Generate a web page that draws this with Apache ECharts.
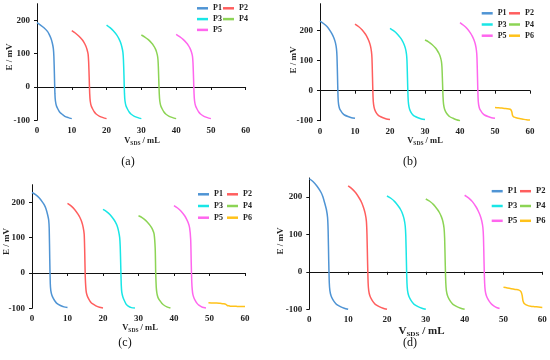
<!DOCTYPE html>
<html>
<head>
<meta charset="utf-8">
<script src="https://cdn.jsdelivr.net/npm/echarts@6/dist/echarts.min.js"></script>
<style>html,body{margin:0;padding:0;background:#fff;}#c{width:550px;height:360px;}</style>
</head>
<body>
<div id="c"></div>
<script>
// ---------- data ----------
const seriesNames = ['P1','P2','P3','P4','P5','P6'];
const seriesColors = ['#4F94D4','#FF5E5E','#19E6E6','#8CD455','#FF66EE','#FFC21A'];
const xTicks = [0,10,20,30,40,50,60];
const yTicks = [-100,0,100,200];
// x offsets (mL) from start of each titration segment (segment k starts at 10*k)
const offsets = [0,1,2,3,3.5,4,4.4,4.7,4.85,5,5.15,5.3,5.6,6,6.5,7,8,9,10];

// panel (a)
const a_P1 = [193,186,178,167,158,146,132,115,92,40,-20,-42,-57,-66,-75,-80,-88,-92,-95];
const a_P2 = [169,162,153,142,134,124,112,98,75,30,-20,-42,-57,-66,-75,-81,-88,-92,-95];
const a_P3 = [186,178,168,155,146,134,120,104,82,35,-20,-42,-57,-66,-75,-81,-88,-92,-95];
const a_P4 = [156,150,142,131,124,115,104,90,70,25,-20,-42,-57,-66,-75,-81,-88,-92,-95];
const a_P5 = [158,151,143,132,125,116,105,92,72,28,-20,-42,-57,-66,-75,-81,-88,-92,-95];

// panel (b)
const b_P1 = [232,224,214,198,188,175,160,140,115,50,-20,-45,-60,-68,-76,-81,-86,-90,-92];
const b_P2 = [222,214,203,188,178,165,150,130,108,45,-20,-45,-62,-72,-80,-85,-90,-94,-96];
const b_P3 = [208,200,190,176,167,155,141,123,100,40,-20,-45,-62,-72,-80,-85,-90,-94,-96];
const b_P4 = [169,163,154,142,134,124,112,97,78,30,-20,-45,-62,-72,-80,-86,-92,-97,-100];
const b_P5 = [227,218,207,192,182,169,154,134,110,45,-20,-45,-60,-68,-76,-81,-86,-90,-92];
const b_P6_x = [50,51,52,53,54,54.5,54.8,55,55.2,55.5,56,57,58,59,60];
const b_P6 = [-56,-57,-58,-59,-61,-63,-70,-82,-86,-88,-90,-93,-95,-97,-98];

// panel (c)
const c_P1 = [228,222,213,200,192,180,165,150,125,40,-30,-50,-63,-72,-80,-86,-92,-96,-98];
const c_P2 = [197,190,180,166,157,145,130,110,60,-10,-40,-55,-66,-74,-82,-87,-93,-97,-99];
const c_P3 = [180,174,165,152,144,133,118,100,75,20,-35,-55,-68,-78,-88,-93,-98,-99,null];
const c_P4 = [162,157,149,138,131,122,110,70,0,-40,-55,-63,-72,-78,-85,-90,-96,-99,null];
const c_P5 = [191,184,175,162,153,142,128,95,30,-25,-48,-60,-70,-78,-86,-91,-97,-99,null];
const c_P6_x = [49.7,51,52,53,54,54.5,55,55.5,56,57,58,59,60];
const c_P6 = [-84,-85,-85,-86,-87,-88,-92,-93,-94,-94,-95,-95,-95];

// panel (d)
const d_P1 = [248,240,228,212,200,182,166,145,110,30,-30,-50,-64,-73,-81,-87,-93,-97,-100];
const d_P2 = [229,221,210,194,184,170,155,135,100,30,-30,-50,-64,-73,-81,-87,-93,-97,-100];
const d_P3 = [202,196,187,174,166,155,141,122,95,30,-30,-50,-64,-73,-81,-87,-93,-97,-100];
const d_P4 = [194,188,179,166,158,147,134,116,90,25,-30,-50,-64,-73,-81,-87,-93,-97,-100];
const d_P5 = [204,197,187,172,162,150,136,118,92,25,-30,-50,-64,-73,-81,-87,-94,-98,null];
const d_P6_x = [50,51,52,53,54,54.5,54.8,55,55.2,55.5,56,57,58,59,60];
const d_P6 = [-41,-43,-45,-47,-49,-53,-62,-76,-82,-86,-89,-92,-93,-94,-95];

const captions = ['(a)','(b)','(c)','(d)'];

// ---------- chart ----------
const FONT = '"Liberation Serif", "Times New Roman", serif';
const panels = [
  {curves:[a_P1,a_P2,a_P3,a_P4,a_P5], p6:null, grid:{left:37, top:3.7, width:208.7, height:116.6}, ymax:250,
   leg:{c1:197,c2:223,top:4.3,gap:2.8,fs:8}, ytitle:[10,57], xtitle:[142,141,8.5], cap:[128,162]},
  {curves:[b_P1,b_P2,b_P3,b_P4,b_P5], p6:[b_P6_x,b_P6], grid:{left:320, top:3.7, width:210, height:117}, ymax:290,
   leg:{c1:481.7,c2:509,top:9.3,gap:3.2,fs:8}, ytitle:[294,60], xtitle:[425,141,8.5], cap:[410,162]},
  {curves:[c_P1,c_P2,c_P3,c_P4,c_P5], p6:[c_P6_x,c_P6], grid:{left:32, top:184.7, width:213, height:123.6}, ymax:250,
   leg:{c1:198,c2:227,top:190.3,gap:3.7,fs:8}, ytitle:[7,241.5], xtitle:[140,328,8.5], cap:[125,343]},
  {curves:[d_P1,d_P2,d_P3,d_P4,d_P5], p6:[d_P6_x,d_P6], grid:{left:309.3, top:178, width:233, height:131.3}, ymax:250,
   leg:{c1:491.7,c2:520,top:186.7,gap:5.8,fs:8.5}, ytitle:[281,241], xtitle:[421.5,331,11], cap:[410,343]}
];

const grid=[], xAxis=[], yAxis=[], series=[], legend=[], graphic=[];
const axisLbl = {fontFamily:FONT, fontWeight:'bold', fontSize:9, color:'#222'};

panels.forEach((p, i) => {
  grid.push(Object.assign({containLabel:false}, p.grid));
  xAxis.push({type:'value', gridIndex:i, min:0, max:60, interval:10,
    axisLine:{lineStyle:{color:'#111', width:1}}, axisTick:{show:true, length:3, lineStyle:{color:'#111'}},
    axisLabel:Object.assign({margin:6}, axisLbl), splitLine:{show:false}});
  yAxis.push({type:'value', gridIndex:i, min:-100, max:p.ymax, interval:100,
    axisLine:{show:true, lineStyle:{color:'#111', width:1}},
    axisTick:{show:true, length:3, lineStyle:{color:'#111'}, customValues:yTicks},
    axisLabel:Object.assign({margin:7, customValues:yTicks}, axisLbl), splitLine:{show:false}});
  p.curves.forEach((vals, k) => {
    const data = [];
    offsets.forEach((o, j) => { if (vals[j] !== null) data.push([10*k + o, vals[j]]); });
    series.push({name:seriesNames[k], type:'line', xAxisIndex:i, yAxisIndex:i, data, smooth:0.25,
      showSymbol:false, symbol:'none', lineStyle:{width:1.5, color:seriesColors[k]}, itemStyle:{color:seriesColors[k]}, z:3});
  });
  if (p.p6) {
    const data = p.p6[0].map((x, j) => [x, p.p6[1][j]]);
    series.push({name:'P6', type:'line', xAxisIndex:i, yAxisIndex:i, data, smooth:0.25,
      showSymbol:false, symbol:'none', lineStyle:{width:1.5, color:seriesColors[5]}, itemStyle:{color:seriesColors[5]}, z:3});
  }
  const n = p.p6 ? 6 : 5;
  const col1 = seriesNames.slice(0,n).filter((_,k)=>k%2===0);
  const col2 = seriesNames.slice(0,n).filter((_,k)=>k%2===1);
  [[col1,p.leg.c1],[col2,p.leg.c2]].forEach(([names,left]) => {
    legend.push({data:names, orient:'vertical', left:left, top:p.leg.top, itemGap:p.leg.gap,
      itemWidth:11, itemHeight:2.5, icon:'rect', padding:0, selectedMode:false,
      textStyle:{fontFamily:FONT, fontWeight:'bold', fontSize:p.leg.fs, lineHeight:8, color:'#222'}});
  });
  graphic.push({type:'text', x:p.ytitle[0], y:p.ytitle[1], rotation:Math.PI/2,
    style:{text:'E / mV', font:'bold 9px ' + FONT, fill:'#222', align:'center', verticalAlign:'middle'}});
  const fs = p.xtitle[2];
  graphic.push({type:'text', x:p.xtitle[0], y:p.xtitle[1],
    style:{text:'V{s|SDS} / mL', fontFamily:FONT, fontWeight:'bold', fontSize:fs, lineHeight:fs+2, fill:'#222',
      align:'center', verticalAlign:'middle',
      rich:{s:{fontFamily:FONT, fontWeight:'bold', fontSize:fs*0.65, lineHeight:fs*0.65, verticalAlign:'bottom', fill:'#222'}}}});
  graphic.push({type:'text', x:p.cap[0], y:p.cap[1],
    style:{text:captions[i], font:'12px ' + FONT, fill:'#111', align:'center', verticalAlign:'middle'}});
});

const chart = echarts.init(document.getElementById('c'), null, {renderer:'canvas'});
chart.setOption({animation:false, backgroundColor:'#fff', grid, xAxis, yAxis, series, legend, graphic});
</script>
</body>
</html>
